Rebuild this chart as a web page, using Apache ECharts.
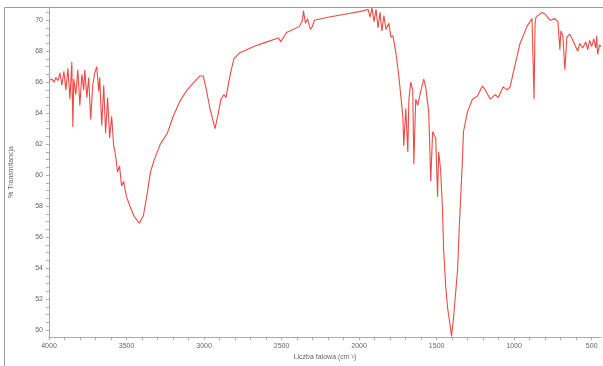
<!DOCTYPE html>
<html>
<head>
<meta charset="utf-8">
<script src="https://cdn.jsdelivr.net/npm/echarts@6/dist/echarts.min.js"></script>
<style>
html, body { margin: 0; padding: 0; background: #fff; }
#chart { width: 603px; height: 366px; }
</style>
</head>
<body>
<div id="chart"></div>
<script>
// wavenumber (cm-1)
var wavenumbers = [
    4000, 3981, 3968, 3955, 3942, 3929, 3917, 3904, 3891, 3878, 3865, 3853, 3846, 3840,
    3827, 3814, 3801, 3788, 3776, 3769, 3756, 3744, 3731, 3718, 3705, 3692, 3679, 3673,
    3660, 3647, 3635, 3622, 3609, 3596, 3583, 3571, 3558, 3545, 3532, 3519, 3500, 3474,
    3449, 3417, 3391, 3365, 3346, 3321, 3282, 3237, 3199, 3154, 3109, 3064, 3026, 3006,
    2987, 2962, 2929, 2910, 2891, 2872, 2859, 2833, 2808, 2769, 2679, 2596, 2519, 2506,
    2468, 2385, 2365, 2359, 2346, 2333, 2314, 2301, 2288, 2192, 2083, 1974, 1942, 1929,
    1917, 1904, 1891, 1878, 1865, 1853, 1840, 1827, 1808, 1795, 1782, 1763, 1744, 1731,
    1718, 1712, 1699, 1686, 1679, 1667, 1654, 1647, 1635, 1622, 1603, 1583, 1571, 1551,
    1538, 1526, 1506, 1494, 1487, 1474, 1462, 1455, 1442, 1429, 1410, 1404, 1391, 1365,
    1353, 1333, 1327, 1301, 1269, 1237, 1205, 1186, 1154, 1122, 1103, 1071, 1045, 1026,
    1006, 962, 917, 885, 878, 872, 865, 859, 821, 801, 769, 737, 718, 705,
    699, 686, 673, 660, 641, 622, 590, 577, 558, 538, 526, 513, 500, 487,
    474, 468, 462, 449, 440
];
// % transmittance at each wavenumber
var transmittance = [
    66.1, 66.2, 66.0, 66.3, 66.1, 66.6, 65.8, 66.7, 65.5, 66.9, 64.9, 67.3, 63.1, 66.2,
    65.2, 66.8, 64.5, 66.5, 65.5, 66.8, 65.0, 66.3, 63.6, 65.8, 66.6, 67.0, 65.4, 66.3,
    63.2, 65.8, 62.7, 65.0, 62.4, 63.8, 61.9, 61.3, 60.2, 60.6, 59.3, 59.6, 58.6, 57.9,
    57.3, 56.9, 57.4, 58.9, 60.2, 61.0, 62.0, 62.7, 63.8, 64.8, 65.5, 66.0, 66.4, 66.4,
    65.6, 64.3, 63.0, 63.9, 64.9, 65.2, 65.0, 66.4, 67.5, 67.9, 68.3, 68.6, 68.85, 68.6,
    69.2, 69.6, 70.0, 70.6, 69.8, 70.1, 69.4, 69.6, 70.0, 70.2, 70.4, 70.6, 70.7, 70.2,
    70.8, 69.9, 70.7, 69.5, 70.5, 69.3, 70.3, 69.4, 69.8, 68.9, 69.0, 67.9, 66.4, 65.1,
    63.8, 61.9, 64.3, 61.5, 64.9, 66.0, 65.5, 60.7, 64.9, 64.5, 65.4, 66.2, 65.7, 64.1,
    59.6, 62.8, 62.4, 58.6, 61.5, 60.3, 57.7, 55.2, 52.9, 51.4, 50.1, 49.6, 50.8, 53.9,
    56.9, 61.1, 62.8, 64.1, 64.9, 65.1, 65.75, 65.5, 64.9, 65.2, 65.0, 65.7, 65.5, 65.7,
    66.6, 68.5, 69.6, 70.1, 70.0, 64.9, 69.8, 70.2, 70.5, 70.4, 70.0, 70.1, 69.9, 68.1,
    69.3, 69.0, 66.8, 68.9, 69.1, 68.7, 68.0, 68.5, 68.2, 68.6, 68.1, 68.7, 68.3, 68.8,
    68.2, 69.0, 67.8, 68.4, 68.3
];
var xLabels = [4000, 3500, 3000, 2500, 2000, 1500, 1000, 500];
var yLabels = [50, 52, 54, 56, 58, 60, 62, 64, 66, 68, 70];

var xTicks = [];
for (var w = 4000; w >= 500; w -= 100) xTicks.push(w);
var yTicks = [];
for (var t = 50; t <= 70.5; t += 0.5) yTicks.push(t);

var points = wavenumbers.map(function (w, i) { return [w, transmittance[i]]; });

var chart = echarts.init(document.getElementById('chart'));
chart.setOption({
    animation: false,
    backgroundColor: '#fff',
    graphic: [{
        type: 'rect',
        shape: { x: 4.5, y: 7.5, width: 700, height: 400 },
        style: { fill: 'none', stroke: '#9a9a9a', lineWidth: 1 },
        silent: true
    }],
    grid: { left: 47, right: 2, top: 7, bottom: 24, containLabel: false },
    xAxis: {
        type: 'value',
        inverse: true,
        min: 440,
        max: 4000,
        name: 'Liczba falowa (cm⁻¹)',
        nameLocation: 'middle',
        nameGap: 16,
        nameTextStyle: { fontSize: 7, color: '#666', fontFamily: 'Liberation Sans' },
        axisLine: { lineStyle: { color: '#aaa' } },
        axisTick: { customValues: xTicks, length: 3, lineStyle: { color: '#aaa' } },
        axisLabel: {
            customValues: xLabels, fontSize: 7, color: '#666', margin: 5, fontFamily: 'Liberation Sans',
            formatter: function (v) { return String(v); }
        },
        splitLine: { show: false }
    },
    yAxis: {
        type: 'value',
        min: 49.55,
        max: 70.85,
        name: '% Transmitancja',
        nameLocation: 'middle',
        nameGap: 34,
        nameTextStyle: { fontSize: 7, color: '#666', fontFamily: 'Liberation Sans' },
        axisLine: { show: true, lineStyle: { color: '#aaa' } },
        axisTick: { customValues: yTicks, length: 3, lineStyle: { color: '#aaa' } },
        axisLabel: {
            customValues: yLabels, fontSize: 7, color: '#666', margin: 6, fontFamily: 'Liberation Sans',
            formatter: function (v) { return String(v); }
        },
        splitLine: { show: false }
    },
    series: [{
        type: 'line',
        data: points,
        showSymbol: false,
        clip: true,
        lineStyle: { color: '#ec4a44', width: 1.1 }
    }]
});
</script>
</body>
</html>
